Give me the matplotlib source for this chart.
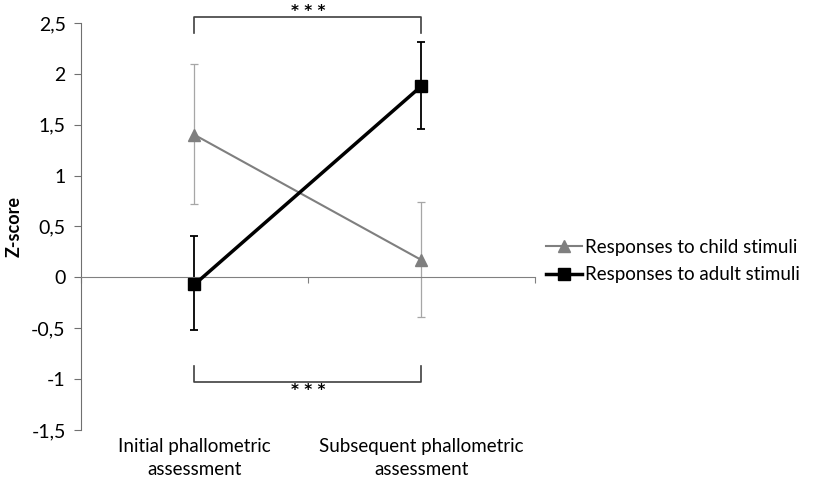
import matplotlib
matplotlib.use("Agg")
import matplotlib.pyplot as plt
import matplotlib.transforms as mtransforms

plt.rcParams.update({
    "font.family": ["Lato", "DejaVu Sans"],
    "font.size": 13.5,
})

categories = ["Initial phallometric\nassessment", "Subsequent phallometric\nassessment"]
child_mean = [1.40, 0.17]
child_upper = [2.10, 0.74]
child_lower = [0.72, -0.39]
adult_mean = [-0.07, 1.88]
adult_upper = [0.41, 2.31]
adult_lower = [-0.52, 1.46]
yticks = [-1.5, -1, -0.5, 0, 0.5, 1, 1.5, 2, 2.5]
ytick_labels = ["-1,5", "-1", "-0,5", "0", "0,5", "1", "1,5", "2", "2,5"]

x = list(range(len(categories)))
child_err = [[m - l for m, l in zip(child_mean, child_lower)],
             [u - m for m, u in zip(child_mean, child_upper)]]
adult_err = [[m - l for m, l in zip(adult_mean, adult_lower)],
             [u - m for m, u in zip(adult_mean, adult_upper)]]

fig = plt.figure(figsize=(8.18, 4.87), dpi=100)
ax = fig.add_axes([0.099, 0.117, 0.555, 0.836])

ax.errorbar(x, child_mean, yerr=child_err, fmt="none", ecolor="#a6a6a6",
            elinewidth=0.9, capsize=3, capthick=0.9, zorder=2)
ax.errorbar(x, adult_mean, yerr=adult_err, fmt="none", ecolor="black",
            elinewidth=1.3, capsize=3, capthick=1.3, zorder=2)
ax.plot(x, child_mean, color="#7f7f7f", lw=1.5, marker="^", ms=8,
        mfc="#7f7f7f", mec="#7f7f7f", label="Responses to child stimuli", zorder=3)
ax.plot(x, adult_mean, color="black", lw=2.5, marker="s", ms=9,
        label="Responses to adult stimuli", zorder=4)

ax.set_xlim(-0.5, 1.5)
ax.set_ylim(-1.5, 2.5)
ax.set_yticks(yticks)
ax.set_yticklabels(ytick_labels, fontsize=14)
ax.set_ylabel("Z-score", fontweight="bold", fontsize=13, labelpad=6)

for s in ["top", "right"]:
    ax.spines[s].set_visible(False)
ax.spines["left"].set_color("#707070")
ax.spines["bottom"].set_position(("data", 0))
ax.spines["bottom"].set_color("#808080")
ax.tick_params(axis="y", direction="out", length=5, color="#707070", pad=6)
ax.set_xticks([-0.5, 0.5, 1.5])
ax.set_xticklabels([])
ax.tick_params(axis="x", direction="out", length=4, color="#808080")

trans = mtransforms.blended_transform_factory(ax.transData, ax.transAxes)
for xi, lab in zip(x, categories):
    ax.text(xi, -0.02, lab, transform=trans, ha="center", va="top",
            linespacing=1.45)

# significance brackets
ax.plot([0, 0, 1, 1], [2.40, 2.56, 2.56, 2.40], color="#404040", lw=1.2,
        clip_on=False)
ax.text(0.5, 2.61, "* * *", ha="center", va="center", fontsize=11,
        fontweight="bold", family="DejaVu Sans")
ax.plot([0, 0, 1, 1], [-0.87, -1.03, -1.03, -0.87], color="#404040", lw=1.2,
        clip_on=False)
ax.text(0.5, -1.11, "* * *", ha="center", va="center", fontsize=11,
        fontweight="bold", family="DejaVu Sans")

fig.legend(loc="center left", bbox_to_anchor=(0.647, 0.464), frameon=False,
           handlelength=1.9, handletextpad=0.15, labelspacing=0.55,
           fontsize=13.5)

fig.savefig("out.png", dpi=100)
